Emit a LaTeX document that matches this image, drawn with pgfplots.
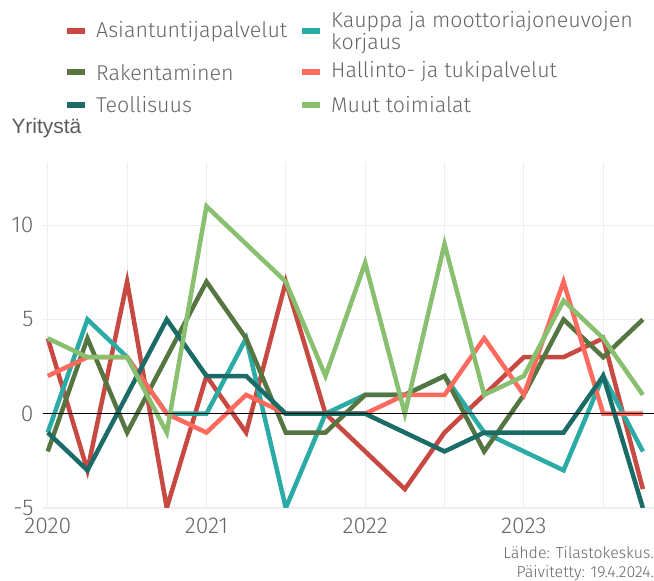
\documentclass[border=0pt]{standalone}
\usepackage{fontspec}
\setmainfont{Fira Sans Light}
\newfontfamily\titlefont{Liberation Sans}
\usepackage{pgfplots}
\pgfplotsset{compat=1.18}
\definecolor{asian}{HTML}{C84942}
\definecolor{kauppa}{HTML}{2AABA5}
\definecolor{raken}{HTML}{557541}
\definecolor{hallinto}{HTML}{FF6A5E}
\definecolor{teoll}{HTML}{1B6B66}
\definecolor{muut}{HTML}{88C070}
\definecolor{gridgray}{HTML}{EEEEEE}
\definecolor{txtgray}{HTML}{666666}
\definecolor{titlegray}{HTML}{5A5A5A}

\begin{document}
\begin{tikzpicture}
\path[use as bounding box] (0bp,0bp) rectangle (654bp,581bp);
\begin{axis}[
  at={(43bp,73bp)}, anchor=south west,
  scale only axis, width=611bp, height=346bp,
  xmin=2019.97, xmax=2023.82, ymin=-5, ymax=13.35,
  xtick={2020,2021,2022,2023},
  xticklabels={2020,2021,2022,2023},
  minor xtick={2020.5,2021.5,2022.5,2023.5},
  ytick={-5,0,5,10},
  yticklabels={-5,0,5,10},
  ticklabel style={font=\fontsize{23}{25}\selectfont, text=txtgray},
  xticklabel style={yshift=-6bp},
  yticklabel style={xshift=-6bp},
  grid=both,
  major grid style={gridgray, line width=1.2bp},
  minor grid style={gridgray, line width=1.2bp},
  axis line style={draw=none},
  tick style={draw=none},
  legend columns=2,
  legend cell align=left,
  legend style={at={(axis description cs:0.0295,1.4385)}, anchor=north west,
    draw=none, fill=none, row sep=10bp,
    font=\fontsize{21.5}{22}\selectfont, text=txtgray,
    nodes={text depth=},
    /tikz/every odd column/.append style={column sep=6bp},
    /tikz/every even column/.append style={column sep=10bp}},
  legend image code/.code={\draw[#1, line width=6bp] (0bp,0bp) -- (18bp,0bp);},
  every axis plot/.append style={line width=4.5bp, line join=miter},
]
\addplot[asian] coordinates {
  (2020.00,4) (2020.25,-3) (2020.50,7) (2020.75,-5)
  (2021.00,2) (2021.25,-1) (2021.50,7) (2021.75,0)
  (2022.00,-2) (2022.25,-4) (2022.50,-1) (2022.75,1)
  (2023.00,3) (2023.25,3) (2023.50,4) (2023.75,-4)};
\addlegendentry{Asiantuntijapalvelut}
\addplot[kauppa] coordinates {
  (2020.00,-1) (2020.25,5) (2020.50,3) (2020.75,0)
  (2021.00,0) (2021.25,4) (2021.50,-5) (2021.75,0)
  (2022.00,1) (2022.25,1) (2022.50,2) (2022.75,-1)
  (2023.00,-2) (2023.25,-3) (2023.50,2) (2023.75,-2)};
\addlegendentry{\raisebox{-2.5bp}[\dimexpr\height-6bp\relax][\dimexpr\depth-6bp\relax]{\begin{tabular}{@{}l@{}}Kauppa ja moottoriajoneuvojen\\korjaus\end{tabular}}}
\addplot[raken] coordinates {
  (2020.00,-2) (2020.25,4) (2020.50,-1) (2020.75,3)
  (2021.00,7) (2021.25,4) (2021.50,-1) (2021.75,-1)
  (2022.00,1) (2022.25,1) (2022.50,2) (2022.75,-2)
  (2023.00,1) (2023.25,5) (2023.50,3) (2023.75,5)};
\addlegendentry{Rakentaminen}
\addplot[hallinto] coordinates {
  (2020.00,2) (2020.25,3) (2020.50,3) (2020.75,0)
  (2021.00,-1) (2021.25,1) (2021.50,0) (2021.75,0)
  (2022.00,0) (2022.25,1) (2022.50,1) (2022.75,4)
  (2023.00,1) (2023.25,7) (2023.50,0) (2023.75,0)};
\addlegendentry{Hallinto- ja tukipalvelut}
\addplot[teoll] coordinates {
  (2020.00,-1) (2020.25,-3) (2020.50,1) (2020.75,5)
  (2021.00,2) (2021.25,2) (2021.50,0) (2021.75,0)
  (2022.00,0) (2022.25,-1) (2022.50,-2) (2022.75,-1)
  (2023.00,-1) (2023.25,-1) (2023.50,2) (2023.75,-5)};
\addlegendentry{Teollisuus}
\addplot[muut] coordinates {
  (2020.00,4) (2020.25,3) (2020.50,3) (2020.75,-1)
  (2021.00,11) (2021.25,9) (2021.50,7) (2021.75,2)
  (2022.00,8) (2022.25,0) (2022.50,9) (2022.75,1)
  (2023.00,2) (2023.25,6) (2023.50,4) (2023.75,1)};
\addlegendentry{Muut toimialat}
\addplot[black, line width=0.9bp, forget plot] coordinates {(2019.97,0) (2023.82,0)};
\end{axis}
\node[anchor=west, font=\titlefont\fontsize{21}{23}\selectfont, text=titlegray] at (8bp,453bp) {Yritystä};
\node[anchor=south east, align=right, inner sep=0pt, font=\fontsize{16}{19}\selectfont, text=txtgray]
  at (654bp,0bp) {Lähde: Tilastokeskus.\\Päivitetty: 19.4.2024.};
\end{tikzpicture}
\end{document}
